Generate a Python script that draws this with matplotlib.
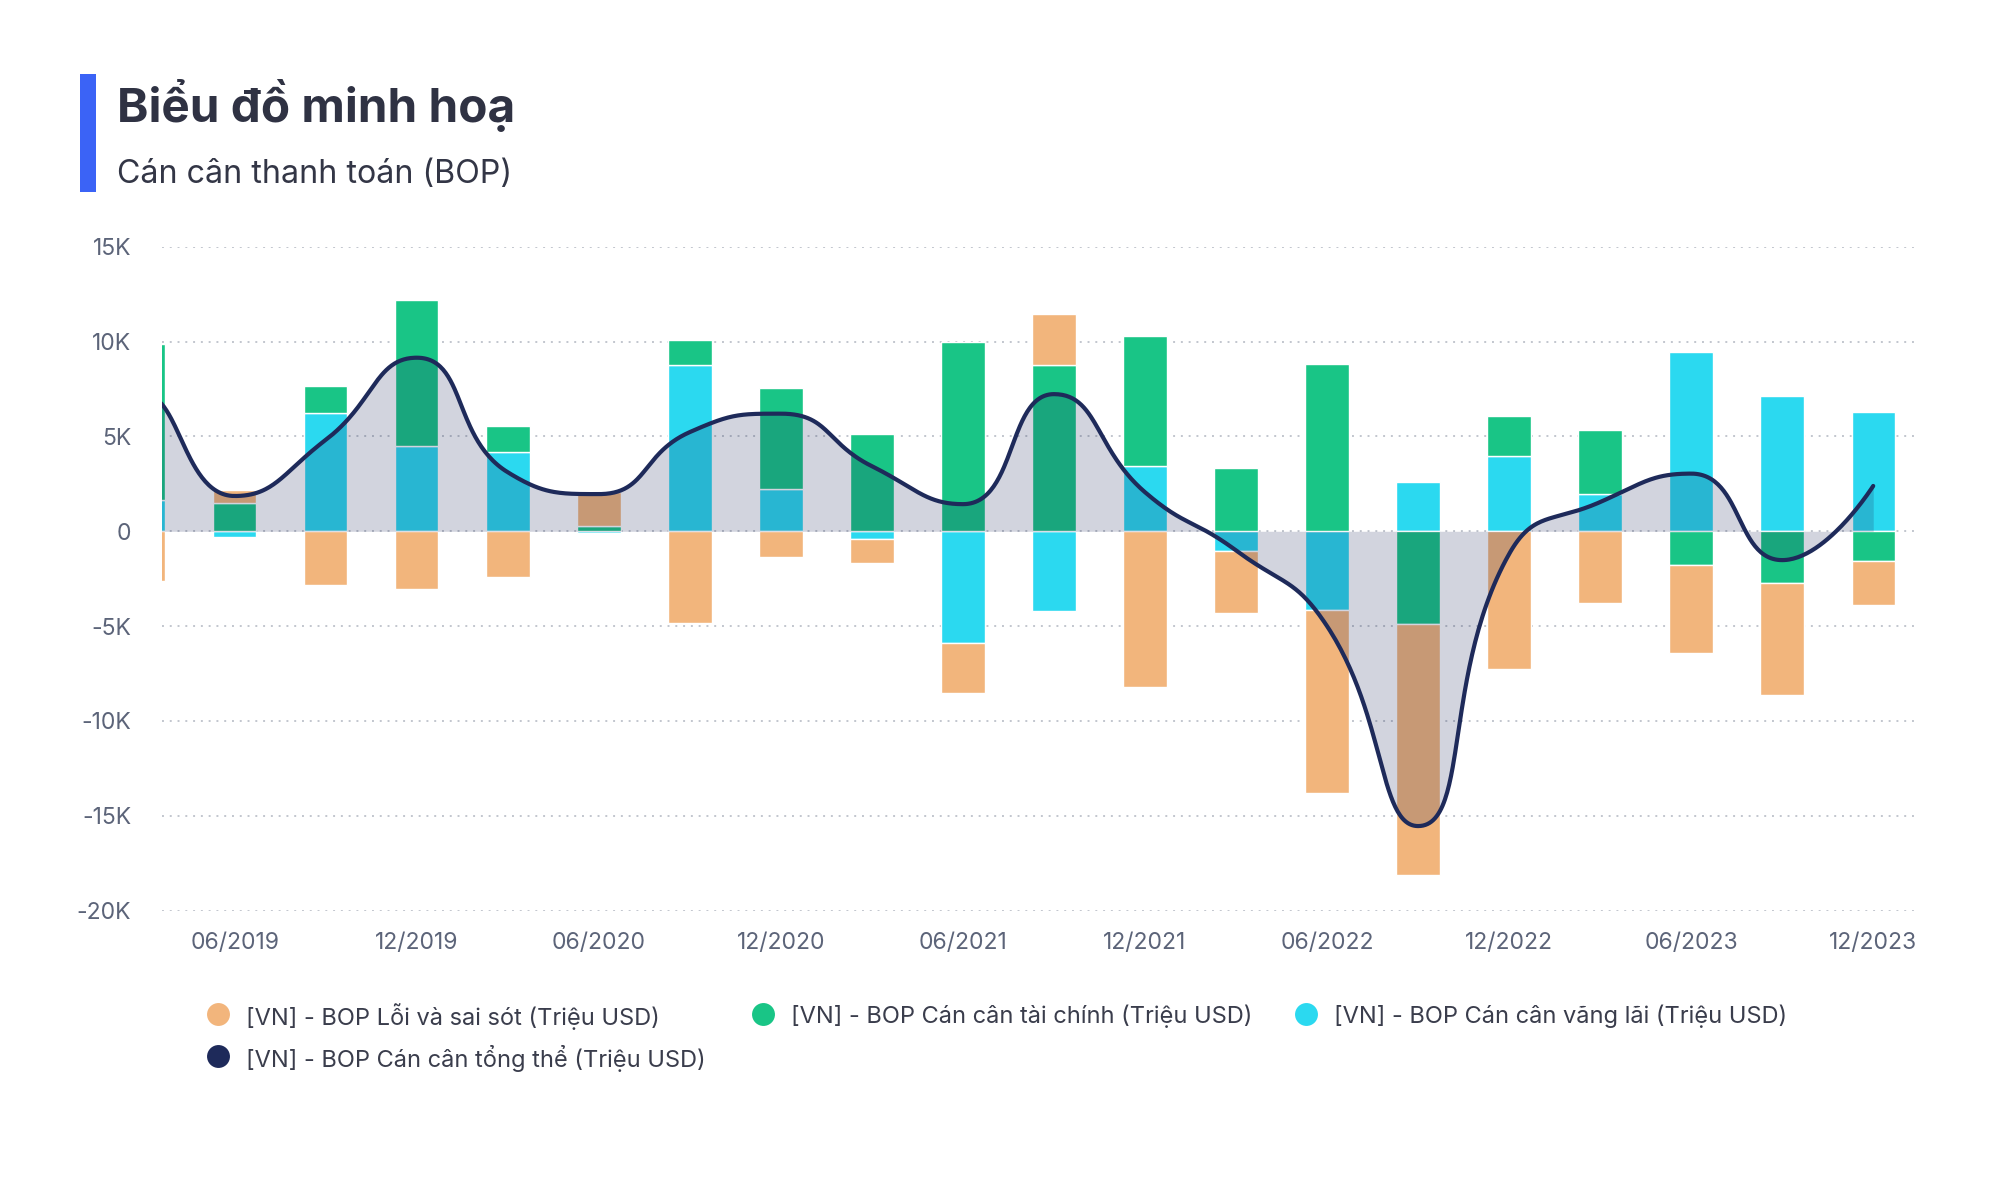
# BOP chart - stacked bars + smoothed overall balance line

import matplotlib
matplotlib.use('Agg')
import matplotlib.pyplot as plt
from matplotlib.lines import Line2D
from matplotlib.patches import Rectangle
import numpy as np

plt.rcParams['font.family'] = ['Inter', 'DejaVu Sans']

# quarters (end month)
quarters = ['03/2019', '06/2019', '09/2019', '12/2019',
            '03/2020', '06/2020', '09/2020', '12/2020',
            '03/2021', '06/2021', '09/2021', '12/2021',
            '03/2022', '06/2022', '09/2022', '12/2022',
            '03/2023', '06/2023', '09/2023', '12/2023']

# million USD
current_acc = [1650, -320, 6220, 4520, 4170, -100, 8750, 2220, -410, -5910,
               -4220, 3460, -1050, -4140, 2600, 3990, 1960, 9450, 7120, 6280]
financial = [8230, 1480, 1430, 7680, 1370, 290, 1330, 5350, 5120, 9980,
             8740, 6830, 3320, 8810, -4880, 2080, 3370, -1800, -2740, -1580]
errors = [-2640, 680, -2830, -3050, -2430, 1770, -4850, -1370, -1280, -2640,
          2710, -8230, -3280, -9670, -13260, -7270, -3790, -4610, -5900, -2310]
overall = [7240, 1860, 4820, 9150, 3110, 1960, 5230, 6200, 3430, 1430,
           7230, 2060, -1010, -5000, -15540, -1200, 1540, 3040, -1520, 2390]

labels = ['[VN] - BOP Lỗi và sai sót (Triệu USD)',
          '[VN] - BOP Cán cân tài chính (Triệu USD)',
          '[VN] - BOP Cán cân vãng lãi (Triệu USD)',
          '[VN] - BOP Cán cân tổng thể (Triệu USD)']

c_orange = '#f2b57c'
c_green = '#19c586'
c_cyan = '#2bd9f0'
c_navy = '#1e2a5a'
c_text = '#5c6479'


def smooth_line(xs, ys, sx, sy, smooth=0.5, n=60):
    # bezier smoothing measured in pixel units, flat at local extremes
    px = np.asarray(xs, float) * sx
    py = np.asarray(ys, float) * sy
    m = len(px)
    cin = [None] * m
    cout = [None] * m
    for i in range(1, m - 1):
        x, y = px[i], py[i]
        x0, y0 = px[i - 1], py[i - 1]
        x1, y1 = px[i + 1], py[i + 1]
        l0 = np.hypot(x - x0, y - y0)
        l1 = np.hypot(x1 - x, y1 - y)
        r = l1 / (l0 + l1)
        vx, vy = x1 - x0, y1 - y0
        nx = x + vx * smooth * r
        ny = y + vy * smooth * r
        nx = max(min(nx, max(x1, x)), min(x1, x))
        ny = max(min(ny, max(y1, y)), min(y1, y))
        vx, vy = nx - x, ny - y
        cx = x - vx * l0 / l1
        cy = y - vy * l0 / l1
        cx = max(min(cx, max(x0, x)), min(x0, x))
        cy = max(min(cy, max(y0, y)), min(y0, y))
        vx, vy = x - cx, y - cy
        cin[i] = (cx, cy)
        cout[i] = (x + vx * l1 / l0, y + vy * l1 / l0)
    cout[0] = (px[0] + (px[1] - px[0]) * 0.4, py[0])
    cin[-1] = (px[-1], py[-1])
    t = np.linspace(0, 1, n)[:, None]
    segs = []
    for i in range(m - 1):
        p0 = np.array([px[i], py[i]])
        p1 = np.array(cout[i])
        p2 = np.array(cin[i + 1])
        p3 = np.array([px[i + 1], py[i + 1]])
        b = ((1 - t) ** 3) * p0 + 3 * ((1 - t) ** 2) * t * p1 \
            + 3 * (1 - t) * t ** 2 * p2 + t ** 3 * p3
        segs.append(b if i == 0 else b[1:])
    pts = np.vstack(segs)
    return pts[:, 0] / sx, pts[:, 1] / sy


fig = plt.figure(figsize=(20, 12.03), dpi=100)
ax = fig.add_axes([0.0809, 0.2430, 0.8771, 0.5519])

x = np.arange(len(quarters))
bw = 0.477

pos_base = np.zeros(len(x))
neg_base = np.zeros(len(x))
for vals, col in [(current_acc, c_cyan), (financial, c_green), (errors, c_orange)]:
    v = np.array(vals, float)
    bottom = np.where(v >= 0, pos_base, neg_base)
    ax.bar(x, v, bottom=bottom, width=bw, color=col, edgecolor='white',
           linewidth=1.0, zorder=2)
    pos_base += np.clip(v, 0, None)
    neg_base += np.clip(v, None, 0)

# px per unit, used for smoothing
sx = 91.02
sy = 18.95 / 1000
lx, ly = smooth_line(x, overall, sx, sy)
ax.fill_between(lx, ly, 0, color=c_navy, alpha=0.2, lw=0, zorder=3)
ax.plot(lx, ly, color=c_navy, lw=3.0, zorder=4, solid_capstyle='round')

ax.set_xlim(0.199, 19.47)
ax.set_ylim(-20000, 15000)
yt = np.arange(-20000, 15001, 5000)
ax.set_yticks(yt)
ax.set_yticklabels(['0' if v == 0 else f'{v // 1000}K' for v in yt])
ax.set_xticks(x[1::2])
ax.set_xticklabels(quarters[1::2])
ax.yaxis.grid(True, linestyle=(0, (1, 3)), color='#c2c6ce', lw=1.4, zorder=0)
ax.set_axisbelow(True)
for s in ax.spines.values():
    s.set_visible(False)
ax.tick_params(axis='y', length=0, pad=22, labelsize=16.5, labelcolor=c_text)
ax.tick_params(axis='x', length=0, pad=15, labelsize=16.5, labelcolor=c_text)

# header
fig.patches.append(Rectangle((80 / 2000, 1 - 191.7 / 1203), 15.6 / 2000, 117.7 / 1203,
                             transform=fig.transFigure, color='#3b63f6', lw=0))
fig.text(117.4 / 2000, 1 - 121.7 / 1203, 'Biểu đồ minh hoạ', fontsize=34.3,
         weight='bold', color='#2f3243', va='baseline')
fig.text(117.4 / 2000, 1 - 183.3 / 1203, 'Cán cân thanh toán (BOP)', fontsize=23.2,
         color='#333646', va='baseline')

# legend
leg = [(218, 1014, c_orange, labels[0]), (763, 1014, c_green, labels[1]),
       (1306, 1014, c_cyan, labels[2]), (218, 1056, c_navy, labels[3])]
for mx, my, col, lab in leg:
    fig.add_artist(Line2D([mx / 2000], [1 - my / 1203], marker='o', markersize=16.5,
                          color=col, markeredgewidth=0, transform=fig.transFigure))
    fig.text((mx + 28) / 2000, 1 - my / 1203, lab, fontsize=17, color='#3a3d4c',
             va='center_baseline')

fig.savefig('out.png', dpi=100, facecolor='white')
